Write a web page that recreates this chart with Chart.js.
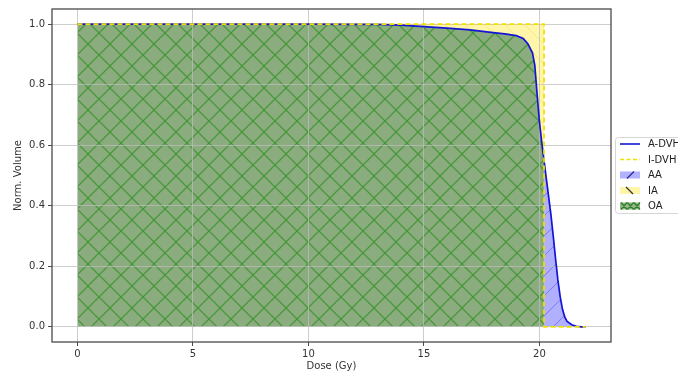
<!DOCTYPE html>
<html>
<head>
<meta charset="utf-8">
<script src="https://cdn.jsdelivr.net/npm/chart.js@4/dist/chart.umd.min.js"></script>
<style>
  html, body { margin: 0; padding: 0; background: #fff; }
  #wrap { width: 678px; height: 375px; position: relative; }
</style>
</head>
<body>
<div id="wrap"><canvas id="dvh"></canvas></div>
<script>
// Dose grid (Gy); 20.2 appears twice so the I-DVH can drop as a step
const dose = [0, 5, 10, 13, 14, 15, 16, 17, 18, 18.5, 19, 19.3, 19.5, 19.7, 19.8, 19.9,
  20.0, 20.1, 20.2, 20.2, 20.3, 20.4, 20.5, 20.6, 20.7, 20.8, 20.9, 21.0, 21.1, 21.2,
  21.4, 21.6, 21.8, 22.0];
// Achieved DVH (normalised volume)
const aDvh = [1, 1, 1, 0.999, 0.997, 0.992, 0.987, 0.981, 0.972, 0.968, 0.962, 0.953,
  0.935, 0.905, 0.865, 0.77, 0.68, 0.61, 0.55, 0.55, 0.49, 0.43, 0.37, 0.30, 0.225,
  0.155, 0.10, 0.058, 0.032, 0.018, 0.007, 0.002, 0, 0];
// Ideal DVH: step at 20.2 Gy
const iDvh = [1, 1, 1, 1, 1, 1, 1, 1, 1, 1, 1, 1, 1, 1, 1, 1, 1, 1, 1, 0, 0, 0, 0, 0,
  0, 0, 0, 0, 0, 0, 0, 0, 0, 0];

const xTicks = [0, 5, 10, 15, 20];
const yTicks = [0, 0.2, 0.4, 0.6, 0.8, 1.0];
const legendLabels = ['A-DVH', 'I-DVH', 'AA', 'IA', 'OA'];

// overlap area = min of both curves
const overlap = dose.map((d, i) => Math.min(aDvh[i], iDvh[i]));
const pts = arr => dose.map((d, i) => ({ x: d, y: arr[i] }));

// matplotlib-like hatch tiles
function hatch(bg, line, kinds, size, width) {
  const c = document.createElement('canvas');
  c.width = size; c.height = size;
  const g = c.getContext('2d');
  g.fillStyle = bg;
  g.fillRect(0, 0, size, size);
  g.strokeStyle = line;
  g.lineWidth = width;
  kinds.forEach(k => {
    g.beginPath();
    if (k === '/') {
      g.moveTo(0, size); g.lineTo(size, 0);
      g.moveTo(-2, 2); g.lineTo(2, -2);
      g.moveTo(size - 2, size + 2); g.lineTo(size + 2, size - 2);
    } else {
      g.moveTo(0, 0); g.lineTo(size, size);
      g.moveTo(size - 2, -2); g.lineTo(size + 2, 2);
      g.moveTo(-2, size - 2); g.lineTo(2, size + 2);
    }
    g.stroke();
  });
  return g.createPattern(c, 'repeat');
}

const ctx = document.getElementById('dvh').getContext('2d');
const oaFill = hatch('rgba(114,154,98,0.82)', 'rgba(58,148,42,0.8)', ['/', '\\'], 22, 1.3);
const aaFill = hatch('rgba(172,172,255,0.95)', 'rgba(90,90,230,0.6)', ['/'], 20, 1);
const iaFill = hatch('rgba(255,245,165,0.95)', 'rgba(245,225,120,0.7)', ['\\'], 20, 1);

// full box around the axes (matplotlib spines)
const framePlugin = {
  id: 'frame',
  afterDraw(chart) {
    const { ctx: c, chartArea: a } = chart;
    c.save();
    c.strokeStyle = '#4a4a4a';
    c.lineWidth = 1.3;
    c.strokeRect(a.left, a.top, a.right - a.left, a.bottom - a.top);
    c.restore();
  }
};

// legend placed outside the axes on the right, like bbox_to_anchor
const legendPlugin = {
  id: 'boxLegend',
  afterDraw(chart) {
    const c = chart.ctx;
    const x0 = chart.chartArea.right + 4, y0 = 137;
    c.save();
    c.fillStyle = 'rgba(255,255,255,0.9)';
    c.strokeStyle = '#d6d6d6';
    c.lineWidth = 1;
    c.beginPath();
    c.roundRect(x0 + 0.5, y0 + 0.5, 90, 76, 3);
    c.fill(); c.stroke();
    const hx = x0 + 5, hw = 20;
    legendLabels.forEach((lab, i) => {
      const cy = y0 + 7 + i * 15.5;
      if (i === 0) {
        c.strokeStyle = '#1414d6'; c.lineWidth = 1.6;
        c.beginPath(); c.moveTo(hx, cy); c.lineTo(hx + hw, cy); c.stroke();
      } else if (i === 1) {
        c.strokeStyle = '#f2e000'; c.lineWidth = 1.6; c.setLineDash([4, 2.5]);
        c.beginPath(); c.moveTo(hx, cy); c.lineTo(hx + hw, cy); c.stroke();
        c.setLineDash([]);
      } else {
        const bg = ['#b2b2ff', '#fff5a8', '#93b883'][i - 2];
        c.fillStyle = bg;
        c.fillRect(hx, cy - 3.5, hw, 7);
        c.lineWidth = 1.2;
        if (i === 2) {
          c.strokeStyle = '#2a2a9a';
          c.beginPath(); c.moveTo(hx + 7, cy + 3.5); c.lineTo(hx + 14, cy - 3.5); c.stroke();
        } else if (i === 3) {
          c.strokeStyle = '#333';
          c.beginPath(); c.moveTo(hx + 6, cy - 3.5); c.lineTo(hx + 13, cy + 3.5); c.stroke();
        } else {
          c.strokeStyle = '#2e7d2e';
          c.beginPath();
          for (let k = 0; k < 3; k++) {
            const bx = hx + 1 + k * 6.5;
            c.moveTo(bx, cy - 3.5); c.lineTo(bx + 6, cy + 3.5);
            c.moveTo(bx, cy + 3.5); c.lineTo(bx + 6, cy - 3.5);
          }
          c.stroke();
        }
      }
      c.fillStyle = '#222';
      c.font = '10px "DejaVu Sans"';
      c.textBaseline = 'middle';
      c.fillText(lab, hx + hw + 8, cy + 0.5);
    });
    c.restore();
  }
};

const tickFont = { family: 'DejaVu Sans', size: 10 };

// OA is the last dataset so fills can target index 2 (index 0 is falsy in the filler)
new Chart(ctx, {
  type: 'line',
  data: {
    datasets: [
      {
        label: 'A-DVH',
        data: pts(aDvh),
        borderColor: '#1414d6',
        borderWidth: 1.7,
        pointRadius: 0,
        backgroundColor: aaFill,
        fill: 2,
        tension: 0,
        order: 1,
      },
      {
        label: 'I-DVH',
        data: pts(iDvh),
        borderColor: '#f2e000',
        borderWidth: 1.7,
        borderDash: [5, 3],
        pointRadius: 0,
        backgroundColor: iaFill,
        fill: 2,
        tension: 0,
        order: 0,
      },
      {
        label: 'OA',
        data: pts(overlap),
        borderWidth: 0,
        borderColor: 'rgba(0,0,0,0)',
        pointRadius: 0,
        backgroundColor: oaFill,
        fill: 'origin',
        order: 2,
      }
    ]
  },
  options: {
    responsive: true,
    maintainAspectRatio: false,
    animation: false,
    layout: { padding: { left: 0, top: 8, right: 67, bottom: 0 } },
    plugins: {
      legend: { display: false },
      tooltip: { enabled: false },
      filler: { drawTime: 'beforeDraw' }
    },
    scales: {
      x: {
        type: 'linear',
        min: -1.1,
        max: 23.1,
        afterBuildTicks: s => { s.ticks = xTicks.map(v => ({ value: v })); },
        afterFit: s => { s.height = 33; },
        grid: { color: 'rgba(190,190,190,0.75)', lineWidth: 1, tickLength: 4, tickColor: '#4a4a4a' },
        border: { display: false },
        ticks: { font: tickFont, color: '#333', padding: 2, maxRotation: 0, callback: v => String(v) },
        title: { display: true, text: 'Dose (Gy)', font: tickFont, color: '#333', padding: 3 }
      },
      y: {
        min: -0.05,
        max: 1.05,
        afterBuildTicks: s => { s.ticks = yTicks.map(v => ({ value: v })); },
        afterFit: s => { s.width = 52; },
        grid: { color: 'rgba(190,190,190,0.75)', lineWidth: 1, tickLength: 4, tickColor: '#4a4a4a' },
        border: { display: false },
        ticks: { font: tickFont, color: '#333', padding: 3, callback: v => v.toFixed(1) },
        title: { display: true, text: 'Norm. Volume', font: tickFont, color: '#333', padding: 12 }
      }
    }
  },
  plugins: [framePlugin, legendPlugin]
});
</script>
</body>
</html>
